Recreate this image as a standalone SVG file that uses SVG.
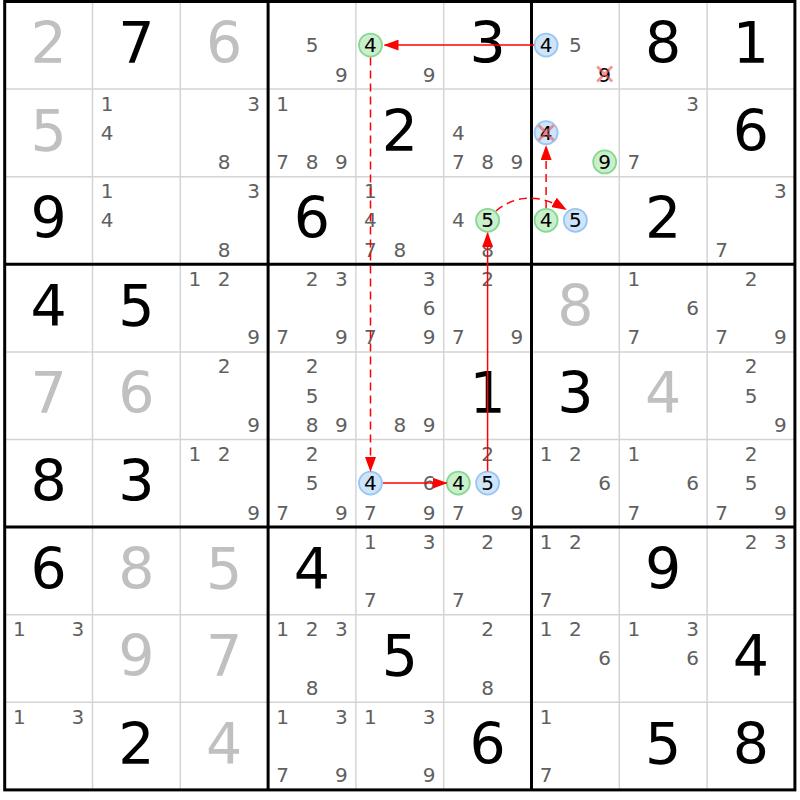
<svg xmlns="http://www.w3.org/2000/svg" width="800" height="800" viewBox="0 0 800 800">
<style>
text{font-family:"DejaVu Sans","Liberation Sans",sans-serif;text-anchor:middle}
.g{font-size:57px;fill:#000}
.gg{fill:#c0c0c0}
.c{font-size:20px;fill:#606060}
.k{fill:#000}
.cg{fill:#c9efcc;stroke:#86d890;stroke-width:1.8}
.cb{fill:#cde4fa;stroke:#99c6f0;stroke-width:1.8}
.x{stroke:#f05050;stroke-opacity:0.6;stroke-width:2.8;fill:none}
.thin{stroke:#d4d4d4;stroke-width:1.5}
.thick{stroke:#000;stroke-width:3}
.dash{stroke-dasharray:8 5}
</style>
<defs>
<marker id="ah" viewBox="0 0 15 11" markerWidth="15" markerHeight="11" refX="14" refY="5.5" orient="auto" markerUnits="userSpaceOnUse">
<path d="M0,0 L15,5.5 L0,11 z" fill="#f00" stroke="none"/>
</marker>
</defs>
<rect x="0" y="0" width="800" height="800" fill="#fff"/>
<g id="grid">
<path class="thin" d="M92.5,1.5V789.9M180.3,1.5V789.9M355.9,1.5V789.9M443.7,1.5V789.9M619.3,1.5V789.9M707.1,1.5V789.9M4.7,89.1H794.9M4.7,176.7H794.9M4.7,351.9H794.9M4.7,439.5H794.9M4.7,614.7H794.9M4.7,702.3H794.9"/>
<path class="thick" d="M268.1,1.5V789.9M531.5,1.5V789.9M4.7,264.3H794.9M4.7,527.1H794.9"/>
<rect class="thick" x="4.7" y="1.5" width="790.2" height="788.4" fill="none"/>
</g>

<g id="r0c0" transform="translate(4.7,1.5)"><text class="g gg" x="43.9" y="61.6">2</text></g>
<g id="r0c1" transform="translate(92.5,1.5)"><text class="g" x="43.9" y="61.6">7</text></g>
<g id="r0c2" transform="translate(180.3,1.5)"><text class="g gg" x="43.9" y="61.6">6</text></g>
<g id="r0c3" transform="translate(268.1,1.5)"><text class="c" x="43.9" y="50.8">5</text><text class="c" x="73.2" y="80">9</text></g>
<g id="r0c4" transform="translate(355.9,1.5)"><circle class="cg" cx="14.6" cy="43.6" r="11.5"/><text class="c k" x="14.6" y="50.8">4</text><text class="c" x="73.2" y="80">9</text></g>
<g id="r0c5" transform="translate(443.7,1.5)"><text class="g" x="43.9" y="61.6">3</text></g>
<g id="r0c6" transform="translate(531.5,1.5)"><circle class="cb" cx="14.6" cy="43.6" r="11.5"/><text class="c k" x="14.6" y="50.8">4</text><text class="c" x="43.9" y="50.8">5</text><text class="c k" x="73.2" y="80">9</text><path class="x" d="M65.7,65 L80.7,80 M80.7,65 L65.7,80"/></g>
<g id="r0c7" transform="translate(619.3,1.5)"><text class="g" x="43.9" y="61.6">8</text></g>
<g id="r0c8" transform="translate(707.1,1.5)"><text class="g" x="43.9" y="61.6">1</text></g>

<g id="r1c0" transform="translate(4.7,89.1)"><text class="g gg" x="43.9" y="61.6">5</text></g>
<g id="r1c1" transform="translate(92.5,89.1)"><text class="c" x="14.6" y="21.6">1</text><text class="c" x="14.6" y="50.8">4</text></g>
<g id="r1c2" transform="translate(180.3,89.1)"><text class="c" x="73.2" y="21.6">3</text><text class="c" x="43.9" y="80">8</text></g>
<g id="r1c3" transform="translate(268.1,89.1)"><text class="c" x="14.6" y="21.6">1</text><text class="c" x="14.6" y="80">7</text><text class="c" x="43.9" y="80">8</text><text class="c" x="73.2" y="80">9</text></g>
<g id="r1c4" transform="translate(355.9,89.1)"><text class="g" x="43.9" y="61.6">2</text></g>
<g id="r1c5" transform="translate(443.7,89.1)"><text class="c" x="14.6" y="50.8">4</text><text class="c" x="14.6" y="80">7</text><text class="c" x="43.9" y="80">8</text><text class="c" x="73.2" y="80">9</text></g>
<g id="r1c6" transform="translate(531.5,89.1)"><circle class="cb" cx="14.6" cy="43.6" r="11.5"/><text class="c k" x="14.6" y="50.8">4</text><path class="x" d="M7.1,36.1 L22.1,51.1 M22.1,36.1 L7.1,51.1"/><circle class="cg" cx="73.2" cy="72.8" r="11.5"/><text class="c k" x="73.2" y="80">9</text></g>
<g id="r1c7" transform="translate(619.3,89.1)"><text class="c" x="73.2" y="21.6">3</text><text class="c" x="14.6" y="80">7</text></g>
<g id="r1c8" transform="translate(707.1,89.1)"><text class="g" x="43.9" y="61.6">6</text></g>

<g id="r2c0" transform="translate(4.7,176.7)"><text class="g" x="43.9" y="61.6">9</text></g>
<g id="r2c1" transform="translate(92.5,176.7)"><text class="c" x="14.6" y="21.6">1</text><text class="c" x="14.6" y="50.8">4</text></g>
<g id="r2c2" transform="translate(180.3,176.7)"><text class="c" x="73.2" y="21.6">3</text><text class="c" x="43.9" y="80">8</text></g>
<g id="r2c3" transform="translate(268.1,176.7)"><text class="g" x="43.9" y="61.6">6</text></g>
<g id="r2c4" transform="translate(355.9,176.7)"><text class="c" x="14.6" y="21.6">1</text><text class="c" x="14.6" y="50.8">4</text><text class="c" x="14.6" y="80">7</text><text class="c" x="43.9" y="80">8</text></g>
<g id="r2c5" transform="translate(443.7,176.7)"><text class="c" x="14.6" y="50.8">4</text><circle class="cg" cx="43.9" cy="43.6" r="11.5"/><text class="c k" x="43.9" y="50.8">5</text><text class="c" x="43.9" y="80">8</text></g>
<g id="r2c6" transform="translate(531.5,176.7)"><circle class="cg" cx="14.6" cy="43.6" r="11.5"/><text class="c k" x="14.6" y="50.8">4</text><circle class="cb" cx="43.9" cy="43.6" r="11.5"/><text class="c k" x="43.9" y="50.8">5</text></g>
<g id="r2c7" transform="translate(619.3,176.7)"><text class="g" x="43.9" y="61.6">2</text></g>
<g id="r2c8" transform="translate(707.1,176.7)"><text class="c" x="73.2" y="21.6">3</text><text class="c" x="14.6" y="80">7</text></g>

<g id="r3c0" transform="translate(4.7,264.3)"><text class="g" x="43.9" y="61.6">4</text></g>
<g id="r3c1" transform="translate(92.5,264.3)"><text class="g" x="43.9" y="61.6">5</text></g>
<g id="r3c2" transform="translate(180.3,264.3)"><text class="c" x="14.6" y="21.6">1</text><text class="c" x="43.9" y="21.6">2</text><text class="c" x="73.2" y="80">9</text></g>
<g id="r3c3" transform="translate(268.1,264.3)"><text class="c" x="43.9" y="21.6">2</text><text class="c" x="73.2" y="21.6">3</text><text class="c" x="14.6" y="80">7</text><text class="c" x="73.2" y="80">9</text></g>
<g id="r3c4" transform="translate(355.9,264.3)"><text class="c" x="73.2" y="21.6">3</text><text class="c" x="73.2" y="50.8">6</text><text class="c" x="14.6" y="80">7</text><text class="c" x="73.2" y="80">9</text></g>
<g id="r3c5" transform="translate(443.7,264.3)"><text class="c" x="43.9" y="21.6">2</text><text class="c" x="14.6" y="80">7</text><text class="c" x="73.2" y="80">9</text></g>
<g id="r3c6" transform="translate(531.5,264.3)"><text class="g gg" x="43.9" y="61.6">8</text></g>
<g id="r3c7" transform="translate(619.3,264.3)"><text class="c" x="14.6" y="21.6">1</text><text class="c" x="73.2" y="50.8">6</text><text class="c" x="14.6" y="80">7</text></g>
<g id="r3c8" transform="translate(707.1,264.3)"><text class="c" x="43.9" y="21.6">2</text><text class="c" x="14.6" y="80">7</text><text class="c" x="73.2" y="80">9</text></g>

<g id="r4c0" transform="translate(4.7,351.9)"><text class="g gg" x="43.9" y="61.6">7</text></g>
<g id="r4c1" transform="translate(92.5,351.9)"><text class="g gg" x="43.9" y="61.6">6</text></g>
<g id="r4c2" transform="translate(180.3,351.9)"><text class="c" x="43.9" y="21.6">2</text><text class="c" x="73.2" y="80">9</text></g>
<g id="r4c3" transform="translate(268.1,351.9)"><text class="c" x="43.9" y="21.6">2</text><text class="c" x="43.9" y="50.8">5</text><text class="c" x="43.9" y="80">8</text><text class="c" x="73.2" y="80">9</text></g>
<g id="r4c4" transform="translate(355.9,351.9)"><text class="c" x="43.9" y="80">8</text><text class="c" x="73.2" y="80">9</text></g>
<g id="r4c5" transform="translate(443.7,351.9)"><text class="g" x="43.9" y="61.6">1</text></g>
<g id="r4c6" transform="translate(531.5,351.9)"><text class="g" x="43.9" y="61.6">3</text></g>
<g id="r4c7" transform="translate(619.3,351.9)"><text class="g gg" x="43.9" y="61.6">4</text></g>
<g id="r4c8" transform="translate(707.1,351.9)"><text class="c" x="43.9" y="21.6">2</text><text class="c" x="43.9" y="50.8">5</text><text class="c" x="73.2" y="80">9</text></g>

<g id="r5c0" transform="translate(4.7,439.5)"><text class="g" x="43.9" y="61.6">8</text></g>
<g id="r5c1" transform="translate(92.5,439.5)"><text class="g" x="43.9" y="61.6">3</text></g>
<g id="r5c2" transform="translate(180.3,439.5)"><text class="c" x="14.6" y="21.6">1</text><text class="c" x="43.9" y="21.6">2</text><text class="c" x="73.2" y="80">9</text></g>
<g id="r5c3" transform="translate(268.1,439.5)"><text class="c" x="43.9" y="21.6">2</text><text class="c" x="43.9" y="50.8">5</text><text class="c" x="14.6" y="80">7</text><text class="c" x="73.2" y="80">9</text></g>
<g id="r5c4" transform="translate(355.9,439.5)"><circle class="cb" cx="14.6" cy="43.6" r="11.5"/><text class="c k" x="14.6" y="50.8">4</text><text class="c" x="73.2" y="50.8">6</text><text class="c" x="14.6" y="80">7</text><text class="c" x="73.2" y="80">9</text></g>
<g id="r5c5" transform="translate(443.7,439.5)"><text class="c" x="43.9" y="21.6">2</text><circle class="cg" cx="14.6" cy="43.6" r="11.5"/><text class="c k" x="14.6" y="50.8">4</text><circle class="cb" cx="43.9" cy="43.6" r="11.5"/><text class="c k" x="43.9" y="50.8">5</text><text class="c" x="14.6" y="80">7</text><text class="c" x="73.2" y="80">9</text></g>
<g id="r5c6" transform="translate(531.5,439.5)"><text class="c" x="14.6" y="21.6">1</text><text class="c" x="43.9" y="21.6">2</text><text class="c" x="73.2" y="50.8">6</text></g>
<g id="r5c7" transform="translate(619.3,439.5)"><text class="c" x="14.6" y="21.6">1</text><text class="c" x="73.2" y="50.8">6</text><text class="c" x="14.6" y="80">7</text></g>
<g id="r5c8" transform="translate(707.1,439.5)"><text class="c" x="43.9" y="21.6">2</text><text class="c" x="43.9" y="50.8">5</text><text class="c" x="14.6" y="80">7</text><text class="c" x="73.2" y="80">9</text></g>

<g id="r6c0" transform="translate(4.7,527.1)"><text class="g" x="43.9" y="61.6">6</text></g>
<g id="r6c1" transform="translate(92.5,527.1)"><text class="g gg" x="43.9" y="61.6">8</text></g>
<g id="r6c2" transform="translate(180.3,527.1)"><text class="g gg" x="43.9" y="61.6">5</text></g>
<g id="r6c3" transform="translate(268.1,527.1)"><text class="g" x="43.9" y="61.6">4</text></g>
<g id="r6c4" transform="translate(355.9,527.1)"><text class="c" x="14.6" y="21.6">1</text><text class="c" x="73.2" y="21.6">3</text><text class="c" x="14.6" y="80">7</text></g>
<g id="r6c5" transform="translate(443.7,527.1)"><text class="c" x="43.9" y="21.6">2</text><text class="c" x="14.6" y="80">7</text></g>
<g id="r6c6" transform="translate(531.5,527.1)"><text class="c" x="14.6" y="21.6">1</text><text class="c" x="43.9" y="21.6">2</text><text class="c" x="14.6" y="80">7</text></g>
<g id="r6c7" transform="translate(619.3,527.1)"><text class="g" x="43.9" y="61.6">9</text></g>
<g id="r6c8" transform="translate(707.1,527.1)"><text class="c" x="43.9" y="21.6">2</text><text class="c" x="73.2" y="21.6">3</text></g>

<g id="r7c0" transform="translate(4.7,614.7)"><text class="c" x="14.6" y="21.6">1</text><text class="c" x="73.2" y="21.6">3</text></g>
<g id="r7c1" transform="translate(92.5,614.7)"><text class="g gg" x="43.9" y="61.6">9</text></g>
<g id="r7c2" transform="translate(180.3,614.7)"><text class="g gg" x="43.9" y="61.6">7</text></g>
<g id="r7c3" transform="translate(268.1,614.7)"><text class="c" x="14.6" y="21.6">1</text><text class="c" x="43.9" y="21.6">2</text><text class="c" x="73.2" y="21.6">3</text><text class="c" x="43.9" y="80">8</text></g>
<g id="r7c4" transform="translate(355.9,614.7)"><text class="g" x="43.9" y="61.6">5</text></g>
<g id="r7c5" transform="translate(443.7,614.7)"><text class="c" x="43.9" y="21.6">2</text><text class="c" x="43.9" y="80">8</text></g>
<g id="r7c6" transform="translate(531.5,614.7)"><text class="c" x="14.6" y="21.6">1</text><text class="c" x="43.9" y="21.6">2</text><text class="c" x="73.2" y="50.8">6</text></g>
<g id="r7c7" transform="translate(619.3,614.7)"><text class="c" x="14.6" y="21.6">1</text><text class="c" x="73.2" y="21.6">3</text><text class="c" x="73.2" y="50.8">6</text></g>
<g id="r7c8" transform="translate(707.1,614.7)"><text class="g" x="43.9" y="61.6">4</text></g>

<g id="r8c0" transform="translate(4.7,702.3)"><text class="c" x="14.6" y="21.6">1</text><text class="c" x="73.2" y="21.6">3</text></g>
<g id="r8c1" transform="translate(92.5,702.3)"><text class="g" x="43.9" y="61.6">2</text></g>
<g id="r8c2" transform="translate(180.3,702.3)"><text class="g gg" x="43.9" y="61.6">4</text></g>
<g id="r8c3" transform="translate(268.1,702.3)"><text class="c" x="14.6" y="21.6">1</text><text class="c" x="73.2" y="21.6">3</text><text class="c" x="14.6" y="80">7</text><text class="c" x="73.2" y="80">9</text></g>
<g id="r8c4" transform="translate(355.9,702.3)"><text class="c" x="14.6" y="21.6">1</text><text class="c" x="73.2" y="21.6">3</text><text class="c" x="73.2" y="80">9</text></g>
<g id="r8c5" transform="translate(443.7,702.3)"><text class="g" x="43.9" y="61.6">6</text></g>
<g id="r8c6" transform="translate(531.5,702.3)"><text class="c" x="14.6" y="21.6">1</text><text class="c" x="14.6" y="80">7</text></g>
<g id="r8c7" transform="translate(619.3,702.3)"><text class="g" x="43.9" y="61.6">5</text></g>
<g id="r8c8" transform="translate(707.1,702.3)"><text class="g" x="43.9" y="61.6">8</text></g>

<g id="connectors" fill="none" stroke="#f00" stroke-width="1.5">
<path d="M534.1,45.1 H384.5" marker-end="url(#ah)"/>
<path class="dash" d="M370.5,57.5 V471" marker-end="url(#ah)"/>
<path d="M383,483.1 H446.5" marker-end="url(#ah)"/>
<path d="M487.6,471.3 V233" marker-end="url(#ah)"/>
<path class="dash" d="M496,211 Q526,186 566,209.5" marker-end="url(#ah)"/>
<path class="dash" d="M546.1,208 V146" marker-end="url(#ah)"/>
</g>
</svg>
